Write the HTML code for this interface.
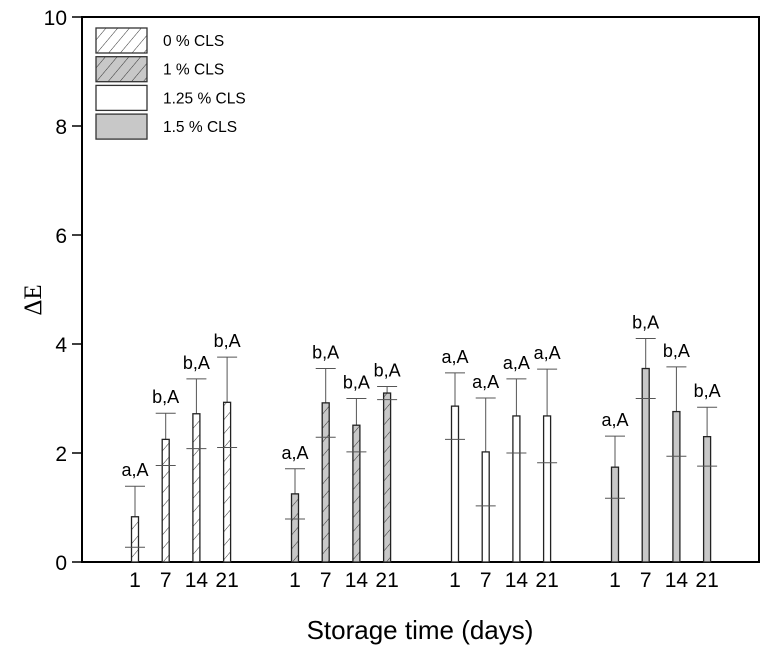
<!DOCTYPE html>
<html><head><meta charset="utf-8"><style>
body{margin:0;background:#fff}
svg{display:block;font-family:"Liberation Sans",Arial,sans-serif}
</style></head><body>
<svg width="765" height="652" viewBox="0 0 765 652">
<defs>
<pattern id="hatchW" patternUnits="userSpaceOnUse" width="9" height="9" patternTransform="rotate(40)"><rect width="9" height="9" fill="#fff"/><line x1="0" y1="0" x2="0" y2="9" stroke="#333" stroke-width="1"/></pattern>
<pattern id="hatchG" patternUnits="userSpaceOnUse" width="9" height="9" patternTransform="rotate(40)"><rect width="9" height="9" fill="#c8c8c8"/><line x1="0" y1="0" x2="0" y2="9" stroke="#333" stroke-width="1"/></pattern>
</defs>
<g id="axes"></g>
<g id="marks"></g>
<g id="legend"></g>
</svg>
<script>
const groups=["0 % CLS","1 % CLS","1.25 % CLS","1.5 % CLS"];
const days=["1","7","14","21"];
const means0=[0.83,2.25,2.72,2.93];
const means1=[1.25,2.92,2.51,3.10];
const means2=[2.86,2.02,2.68,2.68];
const means3=[1.74,3.55,2.76,2.30];
const sd0=[0.56,0.48,0.64,0.83];
const sd1=[0.46,0.63,0.49,0.12];
const sd2=[0.61,0.99,0.68,0.86];
const sd3=[0.57,0.55,0.82,0.54];
const letters0=["a,A","b,A","b,A","b,A"];
const letters1=["a,A","b,A","b,A","b,A"];
const letters2=["a,A","a,A","a,A","a,A"];
const letters3=["a,A","b,A","b,A","b,A"];
const yTicks=[0,2,4,6,8,10];
const fills=["url(#hatchW)","url(#hatchG)","#fff","#c8c8c8"];
const means=[means0,means1,means2,means3],sds=[sd0,sd1,sd2,sd3],lets=[letters0,letters1,letters2,letters3];
const NS="http://www.w3.org/2000/svg";
const X0=82,X1=759,Y0=562,PU=54.5;
const y=v=>Y0-v*PU;
const x=(g,i)=>135+g*160+i*30.7;
function el(t,a,p,txt){const e=document.createElementNS(NS,t);for(const k in a)e.setAttribute(k,a[k]);if(txt!=null)e.textContent=txt;p.appendChild(e);return e;}
const ax=document.getElementById('axes'),mk=document.getElementById('marks'),lg=document.getElementById('legend');
const frame=el('rect',{x:X0,y:y(10),width:X1-X0,height:Y0-y(10),fill:'none',stroke:'#000','stroke-width':2},ax);


yTicks.forEach(v=>{
 const t=el('line',{x1:72,x2:X0,y1:y(v),y2:y(v),stroke:'#000','stroke-width':1.5},ax);
 
 
 const l=el('text',{x:67,y:y(v)+8,'text-anchor':'end','font-size':21},ax,String(v));
 
 
});
const yt=el('text',{x:0,y:0,'font-size':25,'font-family':'"Liberation Serif",serif','text-anchor':'middle',transform:'translate(41,300) rotate(-90)'},ax,'ΔE');


const xt=el('text',{x:420,y:639,'font-size':26,'text-anchor':'middle'},ax,'Storage time (days)');


means.forEach((arr,g)=>{
 arr.forEach((m,i)=>{
  const cx=x(g,i),w=7;
  const up=m+sds[g][i],lo=m-sds[g][i];
  const eb=el('line',{x1:cx,x2:cx,y1:y(up),y2:y(lo),stroke:'#555','stroke-width':1},mk);
  
  
  const b=el('rect',{x:cx-w/2,y:y(m),width:w,height:Y0-y(m),fill:fills[g],stroke:'#222','stroke-width':1.3},mk);
  
  
  [up,lo].forEach(v=>{
   const c=el('line',{x1:cx-10,x2:cx+10,y1:y(v),y2:y(v),stroke:'#555','stroke-width':1},mk);
   
   
  });
  const lt=el('text',{x:cx,y:y(up)-10,'text-anchor':'middle','font-size':18},mk,lets[g][i]);
  
  
  const xl=el('text',{x:cx,y:587,'text-anchor':'middle','font-size':21},mk,days[i]);
  
  
 });
});
groups.forEach((n,k)=>{
 const yy=28+k*28.7;
 const r=el('rect',{x:96,y:yy,width:51,height:25,fill:fills[k],stroke:'#333','stroke-width':1.3},lg);
 
 
 const t=el('text',{x:163,y:yy+18,'font-size':15.5},lg,n);
 
 
});
</script>
</body></html>
